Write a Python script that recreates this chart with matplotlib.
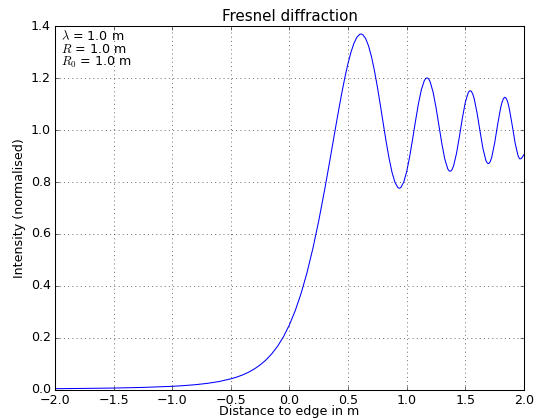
import matplotlib
matplotlib.use('Agg')
from matplotlib import pyplot as plt

# values
distance = [
    -2.0, -1.75, -1.5, -1.25, -1.0, -0.9, -0.8, -0.7, -0.6, -0.5,
    -0.45, -0.4, -0.35, -0.3, -0.25, -0.2, -0.15, -0.1, -0.05,
    0.0, 0.05, 0.1, 0.15, 0.2, 0.25, 0.3,
    0.325, 0.35, 0.375, 0.4, 0.425, 0.45, 0.475, 0.5,
    0.525, 0.55, 0.575, 0.6, 0.6125, 0.625, 0.65, 0.675, 0.7,
    0.725, 0.75, 0.775, 0.8, 0.825, 0.85, 0.875, 0.9,
    0.925, 0.9375, 0.95, 0.975, 1.0, 1.025, 1.05, 1.075, 1.1,
    1.125, 1.15, 1.1625, 1.175, 1.1875, 1.2, 1.225, 1.25, 1.275, 1.3,
    1.325, 1.35, 1.3625, 1.375, 1.3875, 1.4, 1.425, 1.45, 1.475, 1.5,
    1.525, 1.5375, 1.55, 1.5625, 1.575, 1.6, 1.625, 1.65, 1.675,
    1.6875, 1.7, 1.7125, 1.725, 1.75, 1.775, 1.8, 1.8125, 1.825,
    1.8375, 1.85, 1.8625, 1.875, 1.9, 1.925, 1.95, 1.9625, 1.975,
    1.9875, 2.0,
]
intensity = [
    0.0032, 0.0042, 0.0056, 0.0080, 0.0123, 0.0150, 0.0187, 0.0237, 0.0308, 0.0411,
    0.0479, 0.0562, 0.0665, 0.0791, 0.0948, 0.1141, 0.1382, 0.1679, 0.2047,
    0.2500, 0.3053, 0.3721, 0.4517, 0.5450, 0.6518, 0.7708,
    0.8338, 0.8983, 0.9635, 1.0284, 1.0919, 1.1525, 1.2088, 1.2592,
    1.3017, 1.3355, 1.3588, 1.3701, 1.3709, 1.3684, 1.3531, 1.3242, 1.2823,
    1.2288, 1.1659, 1.0966, 1.0246, 0.9542, 0.8900, 0.8366, 0.7983,
    0.7784, 0.7760, 0.7789, 0.8004, 0.8413, 0.8981, 0.9654, 1.0362, 1.1025,
    1.1566, 1.1913, 1.1998, 1.2019, 1.1974, 1.1864, 1.1463, 1.0870, 1.0169, 0.9468,
    0.8881, 0.8508, 0.8426, 0.8419, 0.8489, 0.8633, 0.9114, 0.9773, 1.0478, 1.1083,
    1.1455, 1.1523, 1.1506, 1.1403, 1.1221, 1.0662, 0.9962, 0.9296, 0.8838,
    0.8729, 0.8712, 0.8790, 0.8958, 0.9508, 1.0207, 1.0844, 1.1075, 1.1222,
    1.1271, 1.1218, 1.1067, 1.0829, 1.0180, 0.9492, 0.9005, 0.8897, 0.8898,
    0.8970, 0.9060,
]

wavelength = 1.0
R = 1.0
R0 = 1.0

plt.style.use('classic')
plt.rcParams['figure.facecolor'] = 'white'
plt.rcParams['savefig.facecolor'] = 'white'

DPI = 75.6
fig = plt.figure(figsize=(535 / DPI, 419 / DPI), dpi=DPI)
ax = fig.add_axes([0.1028, 0.0704, 0.8766, 0.8664])

ax.plot(distance, intensity, 'b-', linewidth=1.0)

ax.set_xlim(-2, 2)
ax.set_ylim(0, 1.4)
ax.set_xticks([-2.0, -1.5, -1.0, -0.5, 0.0, 0.5, 1.0, 1.5, 2.0])
ax.set_yticks([0.0, 0.2, 0.4, 0.6, 0.8, 1.0, 1.2, 1.4])
ax.grid(True)

ax.set_title('Fresnel diffraction', pad=5)
ax.set_xlabel('Distance to edge in m', labelpad=-1.5)
ax.set_ylabel('Intensity (normalised)')

label = '\n'.join([
    r'$\lambda$ = %.1f m' % wavelength,
    r'$R$ = %.1f m' % R,
    r'$R_0$ = %.1f m' % R0,
])
ax.text(0.012, 0.992, label, transform=ax.transAxes, va='top', ha='left',
        linespacing=0.93)

fig.savefig('out.png', dpi=DPI)
